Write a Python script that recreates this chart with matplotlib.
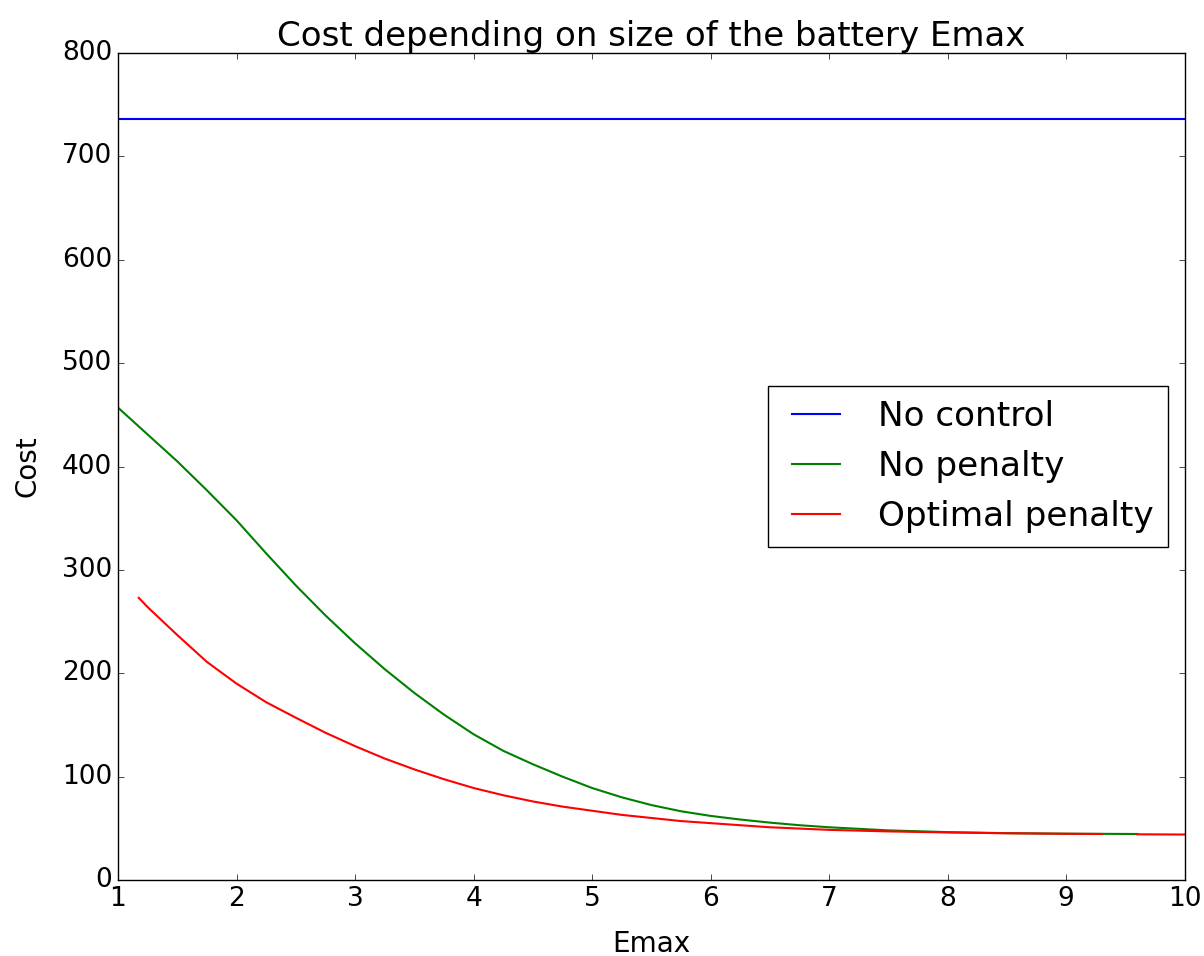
import numpy as np
import matplotlib
matplotlib.use('Agg')
import matplotlib.pyplot as plt

plt.style.use('classic')

# cost without any battery control
no_control_cost = 736.0

# cost for each battery size, no penalty on usage
emax_no_penalty = [1.0, 1.25, 1.5, 1.75, 2.0, 2.25, 2.5, 2.75, 3.0, 3.25, 3.5, 3.75,
                   4.0, 4.25, 4.5, 4.75, 5.0, 5.25, 5.5, 5.75, 6.0, 6.25, 6.5, 6.75,
                   7.0, 7.5, 8.0, 8.5, 9.0, 9.6]
cost_no_penalty = [457, 431, 405, 377, 348, 316, 285, 256, 229, 204, 181, 160,
                   141, 125, 112, 100, 89, 80, 72.5, 66.5, 62, 58.5, 55.5, 53,
                   51, 48, 46.3, 45.3, 44.8, 44.5]

# cost for each battery size with the optimal penalty (nan = no result)
emax_opt_penalty = [1.175, 1.25, 1.5, 1.75, 2.0, 2.25, 2.5, 2.75, 3.0, 3.25, 3.5, 3.75,
                    4.0, 4.25, 4.5, 4.75, 5.0, 5.25, 5.5, 5.75, 6.0, 6.5, 7.0, 7.5,
                    8.0, 8.5, 9.0, 9.3, 9.45, 9.6, 10.0]
cost_opt_penalty = [273, 264, 237, 211, 190, 172, 157, 142.5, 129.5, 117.5, 107, 97.5,
                    89, 82, 76, 71, 67, 63, 60, 57, 55, 51, 48.5, 47,
                    46, 45.2, 44.7, 44.5, np.nan, 44.2, 44]

fig = plt.figure(figsize=(12.04, 9.56), dpi=100)
ax = fig.add_axes([0.098, 0.0795, 0.886, 0.865])

ax.plot([1, 10], [no_control_cost, no_control_cost], 'b-', lw=1.5, label='No control')
ax.plot(emax_no_penalty, cost_no_penalty, 'g-', lw=1.5, label='No penalty')
ax.plot(emax_opt_penalty, cost_opt_penalty, 'r-', lw=1.5, label='Optimal penalty')

ax.set_xlim(1, 10)
ax.set_ylim(0, 800)
ax.tick_params(labelsize=19)
ax.set_title('Cost depending on size of the battery Emax', fontsize=24.5)
ax.set_xlabel('Emax', fontsize=20, labelpad=13)
ax.set_ylabel('Cost', fontsize=20, labelpad=15)
ax.legend(loc='center right', fontsize=24.7)

fig.savefig('out.png', dpi=100)
